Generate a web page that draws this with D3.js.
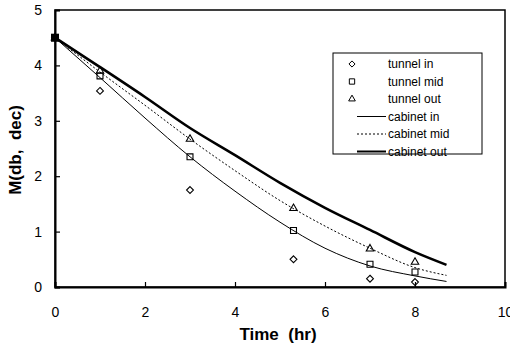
<!DOCTYPE html>
<html>
<head>
<meta charset="utf-8">
<script src="https://cdn.jsdelivr.net/npm/d3@7"></script>
<style>
  body { margin: 0; background: #fff; }
  text { font-family: 'Liberation Sans', Arial, sans-serif; }
</style>
</head>
<body>
<div id="chart"></div>
<script>
// measured points
const measTime = [0, 1, 3, 5.3, 7, 8]
const tunnelIn = [4.5, 3.54, 1.75, 0.5, 0.15, 0.09]
const tunnelMid = [4.5, 3.81, 2.35, 1.02, 0.41, 0.27]
const tunnelOut = [4.5, 3.9, 2.67, 1.42, 0.69, 0.45]

// model curves
const curveTime = [0, 1, 2, 3, 4, 5, 6, 7, 8, 8.7]
const cabinetIn = [4.5, 3.78, 3.05, 2.35, 1.73, 1.17, 0.7, 0.38, 0.2, 0.1]
const cabinetMid = [4.5, 3.88, 3.28, 2.67, 2.1, 1.56, 1.1, 0.7, 0.35, 0.21]
const cabinetOut = [4.5, 3.97, 3.43, 2.87, 2.38, 1.88, 1.43, 1.03, 0.63, 0.4]

const xTicks = [0, 2, 4, 6, 8, 10]
const yTicks = [0, 1, 2, 3, 4, 5]

const margin = { top: 10, left: 55, right: 5, bottom: 61 }
const width = 510 - margin.left - margin.right
const height = 348 - margin.top - margin.bottom

const svg = d3
  .select('#chart')
  .append('svg')
  .attr('width', 510)
  .attr('height', 348)

const g = svg
  .append('g')
  .attr('transform', 'translate(' + margin.left + ',' + margin.top + ')')

const x = d3.scaleLinear().domain([0, 10]).range([0, width])
const y = d3.scaleLinear().domain([0, 5]).range([height, 0])

// frame
g.append('rect')
  .attr('width', width)
  .attr('height', height)
  .attr('fill', 'none')
  .attr('stroke', '#000')
  .attr('stroke-width', 1.5)

// axes with inward ticks
const xAxis = g
  .append('g')
  .attr('transform', `translate(0,${height})`)
  .call(d3.axisBottom(x).tickValues(xTicks).tickFormat(d3.format('d')).tickSize(-5).tickPadding(20))
const yAxis = g
  .append('g')
  .call(d3.axisLeft(y).tickValues(yTicks).tickFormat(d3.format('d')).tickSize(-5).tickPadding(13))

;[xAxis, yAxis].forEach(a => {
  a.select('.domain').attr('stroke-width', 2)
  a.selectAll('.tick line').attr('stroke-width', 1.2)
  a.selectAll('.tick text').style('font-size', '14px').attr('fill', '#000')
})

// lines
const lineData = [
  { name: 'cabinet in', values: cabinetIn, width: 1, dash: null },
  { name: 'cabinet mid', values: cabinetMid, width: 1, dash: '2,2' },
  { name: 'cabinet out', values: cabinetOut, width: 2.6, dash: null }
]

const line = d3
  .line()
  .x((d, i) => x(curveTime[i]))
  .y(d => y(d))
  .curve(d3.curveMonotoneX)

g.selectAll('.model')
  .data(lineData)
  .enter()
  .append('path')
  .attr('class', 'model')
  .attr('d', d => line(d.values))
  .attr('fill', 'none')
  .attr('stroke', '#000')
  .attr('stroke-width', d => d.width)
  .attr('stroke-dasharray', d => d.dash)

// markers
const pointData = [
  { name: 'tunnel in', values: tunnelIn, symbol: d3.symbolDiamond2, size: 30 },
  { name: 'tunnel mid', values: tunnelMid, symbol: d3.symbolSquare2, size: 45 },
  { name: 'tunnel out', values: tunnelOut, symbol: d3.symbolTriangle2, size: 40 }
]

pointData.forEach(s => {
  g.selectAll(null)
    .data(s.values)
    .enter()
    .append('path')
    .attr('d', d3.symbol().type(s.symbol).size(s.size))
    .attr('transform', (d, i) => `translate(${x(measTime[i])},${y(d)})`)
    .attr('fill', 'none')
    .attr('stroke', '#000')
    .attr('stroke-width', 1.1)
})

// start point looks solid in the original
g.append('rect')
  .attr('x', x(measTime[0]) - 4)
  .attr('y', y(tunnelIn[0]) - 4)
  .attr('width', 8)
  .attr('height', 8)
  .attr('fill', '#000')

// axis titles
svg.append('text')
  .attr('x', margin.left + x(5) - 2)
  .attr('y', 340)
  .attr('text-anchor', 'middle')
  .style('font-size', '17px')
  .style('font-weight', 'bold')
  .style('white-space', 'pre')
  .text('Time  (hr)')

svg.append('text')
  .attr('transform', 'translate(21,150) rotate(-90)')
  .attr('text-anchor', 'middle')
  .style('font-size', '17px')
  .style('font-weight', 'bold')
  .style('white-space', 'pre')
  .text('M(db,  dec)')

// legend
const legend = svg.append('g').attr('transform', 'translate(333,53)')

legend.append('rect')
  .attr('width', 149)
  .attr('height', 101)
  .attr('fill', '#fff')
  .attr('stroke', '#000')
  .attr('stroke-width', 1)

const legendItems = pointData.concat(lineData)

legend
  .selectAll('.legend')
  .data(legendItems)
  .enter()
  .append('g')
  .attr('class', 'legend')
  .attr('transform', (d, i) => `translate(0,${11 + i * 17.5})`)
  .each(function(d) {
    const item = d3.select(this)
    if (d.symbol) {
      item.append('path')
        .attr('d', d3.symbol().type(d.symbol).size(d.size * 0.8))
        .attr('transform', 'translate(19,0)')
        .attr('fill', 'none')
        .attr('stroke', '#000')
        .attr('stroke-width', 1)
    } else {
      item.append('line')
        .attr('x1', 24)
        .attr('x2', 53)
        .attr('stroke', '#000')
        .attr('stroke-width', d.width === 1 ? 1 : 2)
        .attr('stroke-dasharray', d.dash)
    }
    item.append('text')
      .attr('x', 55)
      .attr('dy', '0.35em')
      .style('font-size', '12px')
      .text(d.name)
  })
</script>
</body>
</html>
